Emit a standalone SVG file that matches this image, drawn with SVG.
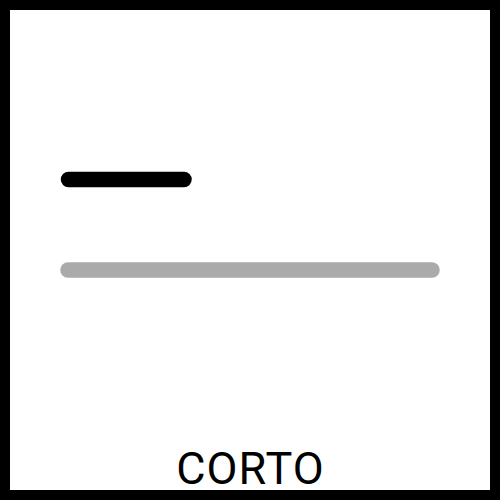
<svg xmlns="http://www.w3.org/2000/svg" width="500" height="500" viewBox="0 0 500 500">
<style>
.bar{stroke-linecap:round;stroke-width:15.5;fill:none}
.label{font-family:Roboto,"Liberation Sans",sans-serif;font-size:45px;letter-spacing:1px;fill:#000;text-anchor:middle}
</style>
<rect x="5" y="5" width="490" height="490" fill="#fff" stroke="#000" stroke-width="10"/>
<g id="short-bar"><line class="bar" x1="68.5" y1="179.5" x2="184" y2="179.5" stroke="#000"/></g>
<g id="long-bar"><line class="bar" x1="68" y1="270" x2="432" y2="270" stroke="#aaaaaa"/></g>
<g id="label"><text class="label" x="250.5" y="484">CORTO</text></g>
</svg>
